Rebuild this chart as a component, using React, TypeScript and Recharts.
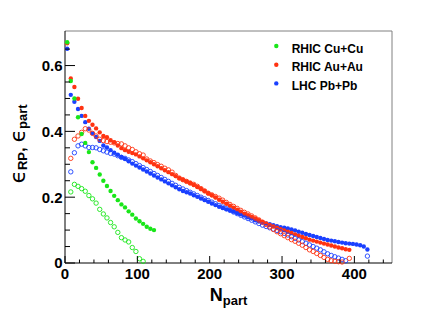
import React from 'react';
import { ScatterChart, Scatter, XAxis, YAxis, ReferenceLine, Legend } from 'recharts';

// N_part bin centres (same for all systems)
const NPART = [
  3, 8, 13, 18, 23, 28, 33, 38, 43, 48,
  53, 58, 63, 68, 73, 78, 83, 88, 93, 98,
  103, 108, 113, 118, 123, 128, 133, 138, 143, 148,
  153, 158, 163, 168, 173, 178, 183, 188, 193, 198,
  203, 208, 213, 218, 223, 228, 233, 238, 243, 248,
  253, 258, 263, 268, 273, 278, 283, 288, 293, 298,
  303, 308, 313, 318, 323, 328, 333, 338, 343, 348,
  353, 358, 363, 368, 373, 378, 383, 388, 393, 398,
  403, 408, 413, 418,
];

// epsilon_RP (filled) and epsilon_part (open), aligned with NPART
const CU_RP = [
  0.671, 0.553, 0.500, 0.443, 0.392, 0.365, 0.337, 0.306, 0.289, 0.269,
  0.250, 0.234, 0.219, 0.204, 0.191, 0.178, 0.169, 0.157, 0.147, 0.135,
  0.127, 0.119, 0.110, 0.104, 0.100,
];
const CU_PART = [
  null, 0.216, 0.239, 0.233, 0.226, 0.218, 0.205, 0.195, 0.182, 0.163,
  0.149, 0.137, 0.123, 0.110, 0.093, 0.077, 0.070, 0.064, 0.047, 0.035,
  0.013, 0.005,
];
const AU_RP = [
  0.668, 0.561, 0.535, 0.499, 0.471, 0.447, 0.432, 0.420, 0.409, 0.397,
  0.386, 0.382, 0.373, 0.367, 0.357, 0.349, 0.343, 0.338, 0.334, 0.330,
  0.324, 0.318, 0.312, 0.306, 0.300, 0.294, 0.288, 0.282, 0.276, 0.270,
  0.264, 0.258, 0.253, 0.248, 0.243, 0.237, 0.231, 0.225, 0.219, 0.212,
  0.206, 0.199, 0.192, 0.186, 0.180, 0.174, 0.168, 0.162, 0.156, 0.150,
  0.145, 0.140, 0.135, 0.130, 0.125, 0.120, 0.115, 0.111, 0.107, 0.103,
  0.099, 0.095, 0.091, 0.087, 0.083, 0.079, 0.075, 0.071, 0.068, 0.065,
  0.062, 0.059, 0.056, 0.053, 0.050, 0.047, 0.045, 0.042, 0.040,
];
const AU_PART = [
  null, 0.318, 0.376, 0.386, 0.397, 0.408, 0.404, 0.394, 0.386, 0.376,
  0.372, 0.369, 0.367, 0.365, 0.363, 0.362, 0.356, 0.350, 0.345, 0.338,
  0.332, 0.328, 0.316, 0.310, 0.305, 0.299, 0.294, 0.288, 0.283, 0.276,
  0.266, 0.258, 0.253, 0.248, 0.243, 0.239, 0.233, 0.226, 0.219, 0.212,
  0.207, 0.202, 0.197, 0.191, 0.184, 0.178, 0.172, 0.166, 0.160, 0.154,
  0.149, 0.143, 0.137, 0.131, 0.124, 0.117, 0.110, 0.102, 0.095, 0.089,
  0.083, 0.077, 0.071, 0.066, 0.060, 0.054, 0.047, 0.040, 0.035, 0.029,
  0.023, 0.017, 0.011, 0.007, 0.005, 0.004, 0.003, null, 0.014,
];
const PB_RP = [
  0.651, 0.511, 0.490, 0.468, 0.447, 0.428, 0.408, 0.394, 0.383, 0.371,
  0.357, 0.351, 0.343, 0.335, 0.329, 0.322, 0.316, 0.309, 0.302, 0.296,
  0.290, 0.284, 0.278, 0.272, 0.266, 0.260, 0.254, 0.248, 0.242, 0.236,
  0.230, 0.224, 0.219, 0.215, 0.211, 0.206, 0.201, 0.196, 0.191, 0.186,
  0.181, 0.176, 0.171, 0.167, 0.163, 0.160, 0.156, 0.152, 0.148, 0.144,
  0.139, 0.135, 0.130, 0.126, 0.123, 0.120, 0.118, 0.115, 0.112, 0.109,
  0.107, 0.105, 0.102, 0.099, 0.095, 0.092, 0.088, 0.085, 0.082, 0.079,
  0.076, 0.073, 0.070, 0.068, 0.066, 0.064, 0.062, 0.060, 0.059, 0.058,
  0.056, 0.054, 0.050, 0.041,
];
const PB_PART = [
  null, 0.277, 0.335, 0.356, 0.361, 0.356, 0.351, 0.351, 0.350, 0.345,
  0.341, 0.337, 0.333, 0.331, 0.326, 0.321, 0.318, 0.313, 0.308, 0.302,
  0.296, 0.290, 0.284, 0.278, 0.272, 0.266, 0.260, 0.254, 0.248, 0.242,
  0.236, 0.230, 0.225, 0.220, 0.215, 0.210, 0.205, 0.200, 0.195, 0.190,
  0.185, 0.180, 0.175, 0.170, 0.165, 0.160, 0.155, 0.150, 0.145, 0.140,
  0.135, 0.130, 0.125, 0.120, 0.115, 0.111, 0.107, 0.103, 0.099, 0.095,
  0.090, 0.085, 0.080, 0.075, 0.070, 0.065, 0.060, 0.055, 0.050, 0.045,
  0.040, 0.034, 0.028, 0.023, 0.019, 0.015, 0.011, 0.007, null, null,
  null, null, null, 0.021,
];

const X_TICKS = [0, 20, 40, 60, 80, 100, 120, 140, 160, 180, 200, 220, 240, 260, 280, 300, 320, 340, 360, 380, 400, 420, 440];
const Y_TICKS = [0, 0.05, 0.1, 0.15, 0.2, 0.25, 0.3, 0.35, 0.4, 0.45, 0.5, 0.55, 0.6, 0.65];

const GREEN = '#19e619';
const RED = '#ff3311';
const BLUE = '#1a40ff';

const LEGEND = [
  { name: 'RHIC Cu+Cu', color: GREEN },
  { name: 'RHIC Au+Au', color: RED },
  { name: 'LHC Pb+Pb', color: BLUE },
];

const FONT = '"Liberation Sans", Arial, Helvetica, sans-serif';

const toPoints = (vals: (number | null)[]) =>
  vals
    .map((v, i) => (v == null ? null : { x: NPART[i], y: v }))
    .filter((p) => p !== null) as { x: number; y: number }[];

const filledDot = (color: string) => (p: any) =>
  <circle cx={p.cx} cy={p.cy} r={2.2} fill={color} />;

const openDot = (color: string) => (p: any) =>
  <circle cx={p.cx} cy={p.cy} r={2.2} fill="none" stroke={color} strokeWidth={0.9} />;

const XTick = (props: any) => {
  const { x, y, payload } = props;
  const major = payload.value % 100 === 0;
  return (
    <g>
      <line x1={x} x2={x} y1={y} y2={y - (major ? 7 : 3.5)} stroke="#000" strokeWidth={1} />
      {major && (
        <text x={x} y={y + 15.5} textAnchor="middle" fontFamily={FONT} fontWeight="bold" fontSize={15} fill="#000">
          {payload.value}
        </text>
      )}
    </g>
  );
};

const YTick = (props: any) => {
  const { x, y, payload } = props;
  const v = Math.round(payload.value * 100) / 100;
  const major = Math.round(v * 100) % 20 === 0;
  return (
    <g>
      <line x1={x} x2={x + (major ? 10 : 5)} y1={y} y2={y} stroke="#000" strokeWidth={1} />
      {major && (
        <text x={x - 2.5} y={y + 5.4} textAnchor="end" fontFamily={FONT} fontWeight="bold" fontSize={15} fill="#000">
          {v === 0 ? '0' : String(v)}
        </text>
      )}
    </g>
  );
};

const XTitle = (props: any) => {
  const { viewBox } = props;
  const cx = viewBox.x + viewBox.width / 2;
  return (
    <text x={cx} y={viewBox.y + 38} textAnchor="middle" fontFamily={FONT} fontWeight="bold" fontSize={18} fill="#000">
      N<tspan fontSize={13} dy={4}>part</tspan>
    </text>
  );
};

const YTitle = (props: any) => {
  const { viewBox } = props;
  const cy = viewBox.y + viewBox.height / 2 - 3;
  const tx = viewBox.x + 20;
  return (
    <text
      x={tx}
      y={cy}
      transform={`rotate(-90 ${tx} ${cy})`}
      textAnchor="middle"
      fontFamily={FONT}
      fontWeight="bold"
      fill="#000"
    >
      <tspan fontFamily='"DejaVu Sans", sans-serif' fontWeight="normal" fontSize={22}>ϵ</tspan>
      <tspan fontSize={13} dy={2}>RP</tspan>
      <tspan fontSize={17} dy={-2}>, </tspan>
      <tspan fontFamily='"DejaVu Sans", sans-serif' fontWeight="normal" fontSize={22}>ϵ</tspan>
      <tspan fontSize={13} dy={2}>part</tspan>
    </text>
  );
};

const renderLegend = () => (
  <svg width={170} height={70}>
    {LEGEND.map((item, i) => (
      <g key={item.name}>
        <circle cx={16.3} cy={16 + i * 18.7} r={2.2} fill={item.color} />
        <text x={31.7} y={22.7 + i * 18.7} fontFamily={FONT} fontWeight="bold" fontSize={12} fill="#000">
          {item.name}
        </text>
      </g>
    ))}
  </svg>
);

export default function App() {
  return (
    <div style={{ position: 'absolute', left: 0, top: 0, background: '#fff' }}>
      <ScatterChart width={436} height={309} margin={{ top: 31, right: 44, bottom: 6, left: 5 }}>
        <XAxis
          type="number"
          dataKey="x"
          domain={[0, 452]}
          ticks={X_TICKS}
          interval={0}
          height={40}
          tickSize={0}
          tickMargin={0}
          tickLine={false}
          tick={<XTick />}
          axisLine={{ stroke: '#000', strokeWidth: 1 }}
          label={{ content: <XTitle /> }}
        />
        <YAxis
          type="number"
          dataKey="y"
          domain={[0, 0.705]}
          ticks={Y_TICKS}
          interval={0}
          width={60}
          tickSize={0}
          tickMargin={0}
          tickLine={false}
          tick={<YTick />}
          axisLine={{ stroke: '#000', strokeWidth: 1 }}
          label={{ content: <YTitle /> }}
        />
        <ReferenceLine y={0.705} stroke="#808080" strokeWidth={1} />
        <ReferenceLine x={452} stroke="#808080" strokeWidth={1} />
        <Legend
          layout="vertical"
          align="center"
          verticalAlign="middle"
          wrapperStyle={{ left: 260, top: 30, width: 170, height: 70 }}
          content={renderLegend}
        />
        <Scatter name="LHC Pb+Pb" data={toPoints(PB_RP)} shape={filledDot(BLUE)} isAnimationActive={false} />
        <Scatter name="RHIC Au+Au" data={toPoints(AU_RP)} shape={filledDot(RED)} isAnimationActive={false} />
        <Scatter name="LHC Pb+Pb part" data={toPoints(PB_PART)} shape={openDot(BLUE)} isAnimationActive={false} />
        <Scatter name="RHIC Au+Au part" data={toPoints(AU_PART)} shape={openDot(RED)} isAnimationActive={false} />
        <Scatter name="RHIC Cu+Cu part" data={toPoints(CU_PART)} shape={openDot(GREEN)} isAnimationActive={false} />
        <Scatter name="RHIC Cu+Cu" data={toPoints(CU_RP)} shape={filledDot(GREEN)} isAnimationActive={false} />
      </ScatterChart>
    </div>
  );
}
